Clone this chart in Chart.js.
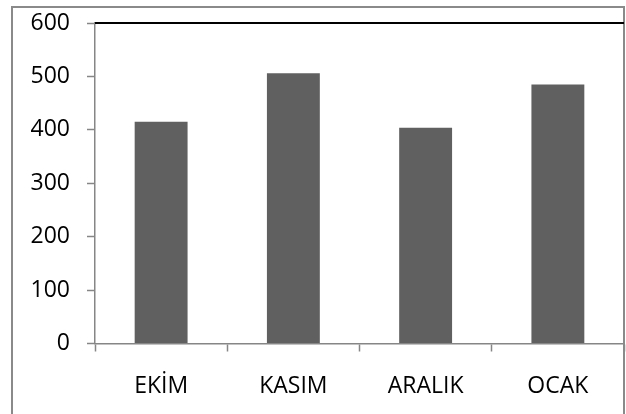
<!DOCTYPE html>
<html>
<head>
<meta charset="utf-8">
<script src="https://cdn.jsdelivr.net/npm/chart.js@4"></script>
<style>
  html, body { margin: 0; padding: 0; background: #fff; }
  canvas { display: block; }
</style>
</head>
<body>
<canvas id="grafico" width="626" height="414"></canvas>
<script>
// datos del gráfico
const aylar = ['EKİM', 'KASIM', 'ARALIK', 'OCAK'];
const degerler = [415, 506, 404, 485];
const yEksen = [0, 600, 100]; // min, max, paso

const GRIS_EJE = '#868686';
const FUENTE = { family: 'Open Sans', size: 23 };

// marco exterior + línea superior del área de trazado
const marco = {
  id: 'marco',
  afterDraw(chart) {
    const c = chart.ctx;
    const a = chart.chartArea;
    c.save();
    c.strokeStyle = '#8a8a8a';
    c.lineWidth = 2;
    c.strokeRect(12, 7, 612, 420);
    c.strokeStyle = '#000';
    c.lineWidth = 2;
    c.beginPath();
    c.moveTo(a.left, a.top);
    c.lineTo(a.right, a.top);
    c.stroke();
    c.restore();
  }
};

new Chart(document.getElementById('grafico').getContext('2d'), {
  type: 'bar',
  data: {
    labels: aylar,
    datasets: [{
      data: degerler,
      backgroundColor: '#606060',
      borderWidth: 0,
      categoryPercentage: 1,
      barPercentage: 0.4,
    }]
  },
  options: {
    responsive: false,
    animation: false,
    devicePixelRatio: 1,
    layout: { padding: { top: 23, right: 2, left: 0, bottom: 0 } },
    plugins: {
      legend: { display: false },
      tooltip: { enabled: false },
    },
    scales: {
      y: {
        min: yEksen[0],
        max: yEksen[1],
        afterFit: (s) => { s.width = 95; s.paddingTop = 0; s.paddingBottom = 0; },
        ticks: { stepSize: yEksen[2], color: '#000', font: FUENTE, padding: 17 },
        grid: { drawOnChartArea: false, tickLength: 8, tickColor: GRIS_EJE, tickWidth: 1.5 },
        border: { color: GRIS_EJE, width: 1.5 },
      },
      x: {
        afterFit: (s) => { s.height = 70.5; s.paddingLeft = 0; s.paddingRight = 0; },
        ticks: { color: '#000', font: FUENTE, padding: 21, maxRotation: 0 },
        grid: { offset: true, drawOnChartArea: false, tickLength: 8, tickColor: GRIS_EJE, tickWidth: 1.5 },
        border: { color: GRIS_EJE, width: 1.5 },
      }
    }
  },
  plugins: [marco]
});
</script>
</body>
</html>
